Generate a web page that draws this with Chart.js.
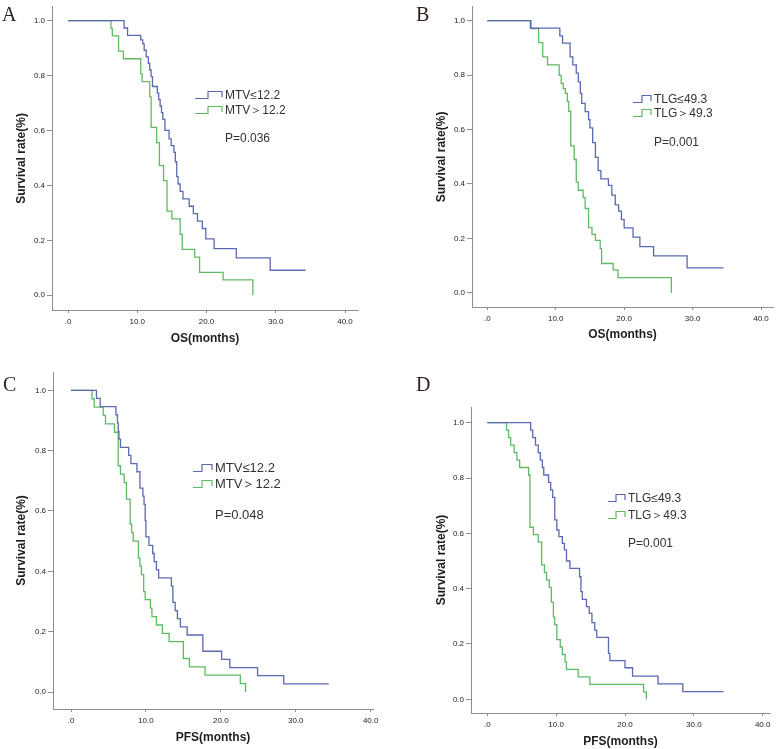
<!DOCTYPE html>
<html>
<head>
<meta charset="utf-8">
<script src="https://cdn.jsdelivr.net/npm/chart.js@4.4.1/dist/chart.umd.min.js"></script>
<style>
  html, body { margin: 0; padding: 0; background: #fff; }
  body { position: relative; width: 778px; height: 749px; overflow: hidden; font-family: "Liberation Sans", Arial, sans-serif; }
  .panel { position: absolute; }
  .letter { position: absolute; font-family: "Liberation Serif", "Times New Roman", serif; font-size: 20px; line-height: 20px; color: #2e1f1f; }
  .legend-row { position: absolute; white-space: nowrap; color: #333; }
  .legend-row svg { position: absolute; }
  .pval { position: absolute; white-space: nowrap; color: #333; }
</style>
</head>
<body>
<script>
// tick values
const monthTicks = [0, 10, 20, 30, 40];
const survTicks = [0, 0.2, 0.4, 0.6, 0.8, 1.0];

// panel text
const panelLetters = ['A', 'B', 'C', 'D'];
const xTitles = ['OS(months)', 'OS(months)', 'PFS(months)', 'PFS(months)'];
const yTitle = 'Survival rate(%)';
const mtvLabels = ['MTV≤12.2', 'MTV＞12.2'];
const tlgLabels = ['TLG≤49.3', 'TLG＞49.3'];
const pValues = ['P=0.036', 'P=0.001', 'P=0.048', 'P=0.001'];

// A: OS by MTV
const osMtvLowTime  = [0, 8.1, 8.6, 10.5, 10.8, 11.0, 11.3, 11.6, 11.8, 12.0, 12.2, 12.9, 13.1, 13.3, 13.5, 13.7, 14.0, 14.6, 14.9, 15.3, 15.5, 15.7, 15.9, 16.2, 16.6, 17.5, 18.1, 18.7, 19.4, 19.9, 21.1, 24.3, 29.2, 34.3];
const osMtvLowSurv  = [1, .973, .946, .930, .915, .892, .868, .844, .820, .796, .760, .736, .712, .689, .665, .640, .600, .569, .545, .520, .486, .432, .405, .378, .351, .324, .297, .270, .243, .205, .170, .136, .091, .091];
const osMtvHighTime = [0, 6.2, 6.4, 7.3, 8.0, 10.5, 10.7, 11.8, 12.0, 12.8, 13.2, 13.8, 14.3, 15.0, 16.2, 16.5, 18.3, 19.0, 22.4, 26.7];
const osMtvHighSurv = [1, .972, .944, .889, .861, .806, .778, .722, .611, .556, .472, .417, .306, .278, .222, .167, .139, .083, .056, 0];

// B: OS by TLG
const osTlgLowTime  = [0, 6.3, 10.6, 11.0, 12.1, 12.5, 13.0, 13.3, 13.6, 13.8, 14.3, 14.8, 15.0, 15.4, 15.8, 16.2, 16.6, 17.7, 18.2, 18.7, 19.2, 19.6, 20.0, 21.3, 22.3, 24.3, 29.2, 34.5];
const osTlgLowSurv  = [1, .972, .944, .917, .867, .837, .807, .775, .733, .696, .666, .636, .606, .552, .498, .449, .419, .395, .359, .323, .300, .269, .239, .205, .170, .136, .092, .092];
const osTlgHighTime = [0, 6.4, 7.5, 8.1, 8.8, 10.5, 10.8, 11.1, 11.4, 11.7, 11.9, 12.2, 12.7, 13.0, 13.3, 14.0, 14.3, 14.8, 15.3, 15.8, 16.5, 16.7, 18.4, 19.1, 26.9];
const osTlgHighSurv = [1, .971, .919, .867, .837, .799, .769, .750, .733, .703, .667, .540, .490, .407, .377, .350, .310, .240, .215, .193, .163, .108, .085, .056, 0];

// C: PFS by MTV
const pfsMtvLowTime  = [0, 3.4, 3.9, 6.0, 6.2, 6.3, 6.4, 6.6, 7.7, 8.0, 8.8, 9.2, 9.6, 9.75, 9.9, 10.0, 10.4, 10.9, 11.1, 11.4, 11.7, 13.4, 13.6, 13.9, 14.2, 14.6, 15.5, 17.6, 20.1, 21.2, 24.9, 28.4, 34.4];
const pfsMtvLowSurv  = [1, .973, .946, .919, .892, .865, .838, .811, .784, .757, .730, .676, .649, .622, .568, .514, .486, .459, .432, .405, .378, .351, .297, .270, .243, .216, .189, .135, .108, .081, .054, .027, .027];
const pfsMtvHighTime = [0, 2.8, 3.1, 4.3, 4.6, 5.8, 6.3, 6.6, 7.1, 7.4, 7.9, 8.1, 8.3, 9.0, 9.2, 9.4, 9.7, 9.9, 10.6, 10.8, 11.4, 12.2, 13.1, 15.0, 15.8, 17.9, 22.6, 23.3];
const pfsMtvHighSurv = [1, .972, .944, .917, .889, .861, .750, .722, .694, .639, .556, .528, .500, .444, .417, .389, .333, .306, .278, .250, .222, .194, .167, .111, .083, .056, .028, 0];

// D: PFS by TLG
const pfsTlgLowTime  = [0, 6.3, 6.6, 7.0, 7.4, 7.7, 8.0, 8.2, 8.9, 9.2, 9.5, 9.8, 10.1, 10.4, 10.9, 11.2, 11.5, 12.0, 13.4, 13.6, 13.8, 14.4, 14.8, 15.2, 15.6, 15.9, 17.6, 17.8, 20.0, 21.1, 24.8, 28.4, 34.3];
const pfsTlgLowSurv  = [1, .973, .946, .919, .892, .865, .838, .811, .784, .757, .730, .649, .612, .588, .564, .540, .500, .473, .443, .389, .361, .335, .311, .277, .250, .224, .166, .140, .114, .084, .056, .028, .028];
const pfsTlgHighTime = [0, 2.8, 3.1, 3.4, 3.9, 4.3, 4.7, 6.0, 6.2, 6.7, 7.4, 7.9, 8.3, 8.6, 9.0, 9.3, 9.6, 9.8, 10.1, 10.6, 10.9, 11.3, 11.5, 13.2, 14.9, 22.7, 23.1];
const pfsTlgHighSurv = [1, .973, .946, .919, .892, .865, .838, .811, .622, .595, .568, .486, .459, .432, .405, .351, .297, .270, .216, .189, .162, .135, .108, .081, .054, .027, 0];

const lineColors = ['#5b69b1', '#5fbb63'];
const axisColor = '#8e8e8e';

const panelSeries = [
  { labels: mtvLabels, times: [osMtvLowTime, osMtvHighTime], surv: [osMtvLowSurv, osMtvHighSurv] },
  { labels: tlgLabels, times: [osTlgLowTime, osTlgHighTime], surv: [osTlgLowSurv, osTlgHighSurv] },
  { labels: mtvLabels, times: [pfsMtvLowTime, pfsMtvHighTime], surv: [pfsMtvLowSurv, pfsMtvHighSurv] },
  { labels: tlgLabels, times: [pfsTlgLowTime, pfsTlgHighTime], surv: [pfsTlgLowSurv, pfsTlgHighSurv] }
];

// page geometry of each panel (pixels)
const layouts = [
  { left: 0,   top: 0,   w: 390, h: 360, axis: [52, 2, 358, 310],    x0: 68,    x40: 345,   y1: 16,    y0: 295,   yTitleX: 22,  xTitleY: 339, letter: [2, 4],     iconX: 195, textX: 225, rowY: [95, 110],  pY: 138, font: 12 },
  { left: 390, top: 0,   w: 388, h: 360, axis: [472, 2, 773, 307],   x0: 487.3, x40: 761,   y1: 16,    y0: 292.7, yTitleX: 442, xTitleY: 335, letter: [416, 4],   iconX: 633, textX: 654, rowY: [99, 113],  pY: 142, font: 12 },
  { left: 0,   top: 365, w: 390, h: 384, axis: [53, 372, 373, 709], x0: 71,    x40: 370.7, y1: 390.3, y0: 692,   yTitleX: 22,  xTitleY: 738, letter: [3, 374],   iconX: 193, textX: 215, rowY: [468, 484], pY: 515, font: 13 },
  { left: 390, top: 365, w: 388, h: 384, axis: [471, 407, 770, 713], x0: 487.3, x40: 762.7, y1: 422.7, y0: 699.3, yTitleX: 442, xTitleY: 742, letter: [416, 374], iconX: 608, textX: 628, rowY: [498, 515], pY: 543, font: 12 }
];

function fmtMonth(v) {
  return v === 0 ? '.0' : v.toFixed(1);
}

function buildPanel(i) {
  const L = layouts[i];
  const S = panelSeries[i];
  const [al, at, ar, ab] = L.axis;

  const pxMonth = (L.x40 - L.x0) / 40;
  const pxUnit = L.y0 - L.y1;
  const xMin = (al - L.x0) / pxMonth;
  const xMax = (ar - L.x0) / pxMonth;
  const yMax = 1 + (L.y1 - at) / pxUnit;
  const yMin = -(ab - L.y0) / pxUnit;

  const box = document.createElement('div');
  box.className = 'panel';
  box.style.left = L.left + 'px';
  box.style.top = L.top + 'px';
  box.style.width = L.w + 'px';
  box.style.height = L.h + 'px';
  const canvas = document.createElement('canvas');
  canvas.width = L.w;
  canvas.height = L.h;
  box.appendChild(canvas);
  document.body.appendChild(box);

  const titleFont = { family: '"Liberation Sans", Arial, sans-serif', size: 12, weight: 'bold' };
  const tickFont = { family: '"Liberation Sans", Arial, sans-serif', size: 8 };

  const chart = new Chart(canvas, {
    type: 'line',
    data: {
      datasets: S.labels.map((lab, k) => ({
        label: lab,
        data: S.times[k].map((t, j) => ({ x: t, y: S.surv[k][j] })),
        borderColor: lineColors[k],
        borderWidth: 1.3,
        stepped: true,
        pointRadius: 0,
        fill: false
      }))
    },
    options: {
      responsive: false,
      animation: false,
      layout: { padding: { left: 0, top: at - L.top, right: L.left + L.w - ar, bottom: 0 } },
      plugins: { legend: { display: false }, tooltip: { enabled: false } },
      scales: {
        x: {
          type: 'linear',
          min: xMin,
          max: xMax,
          afterBuildTicks: sc => { sc.ticks = monthTicks.map(v => ({ value: v })); },
          afterFit: sc => { sc.height = L.top + L.h - ab; },
          grid: { display: true, drawOnChartArea: false, drawTicks: true, tickLength: 3, color: axisColor },
          border: { display: true, color: axisColor, width: 1 },
          ticks: { font: tickFont, color: '#222', padding: 4, maxRotation: 0, autoSkip: false, callback: v => fmtMonth(v) },
          title: { display: true, text: xTitles[i], font: titleFont, color: '#1e1e1e', padding: { top: 0, bottom: L.top + L.h - L.xTitleY - 7.2 } }
        },
        y: {
          type: 'linear',
          min: yMin,
          max: yMax,
          afterBuildTicks: sc => { sc.ticks = survTicks.map(v => ({ value: v })); },
          afterFit: sc => { sc.width = al - L.left; },
          grid: { display: true, drawOnChartArea: false, drawTicks: true, tickLength: 5, color: axisColor },
          border: { display: true, color: axisColor, width: 1 },
          ticks: { font: tickFont, color: '#222', padding: 2, autoSkip: false, callback: v => v.toFixed(1) },
          title: { display: true, text: yTitle, font: titleFont, color: '#1e1e1e', padding: { top: L.yTitleX - L.left - 7.2, bottom: 0 } }
        }
      }
    }
  });

  // panel letter
  const letter = document.createElement('div');
  letter.className = 'letter';
  letter.textContent = panelLetters[i];
  letter.style.left = L.letter[0] + 'px';
  letter.style.top = L.letter[1] + 'px';
  document.body.appendChild(letter);

  // legend built from the chart's datasets
  const iconW = L.textX - L.iconX - 2;
  chart.data.datasets.forEach((ds, k) => {
    const row = document.createElement('div');
    row.className = 'legend-row';
    row.style.left = L.iconX + 'px';
    row.style.top = (L.rowY[k] - L.font / 2 - 0.5) + 'px';
    row.style.fontSize = L.font + 'px';
    row.style.lineHeight = L.font + 'px';
    row.style.paddingLeft = (L.textX - L.iconX) + 'px';
    const mid = Math.round(iconW * 0.45);
    row.innerHTML =
      '<svg width="' + iconW + '" height="10" style="left:0;top:' + (L.font / 2 - 4.5) + 'px">' +
      '<path d="M0 8.5 H' + mid + ' V1.5 H' + (iconW - 1) + ' V7" fill="none" stroke="' + ds.borderColor + '" stroke-width="1.2"/></svg>';
    row.appendChild(document.createTextNode(ds.label));
    document.body.appendChild(row);
  });

  const p = document.createElement('div');
  p.className = 'pval';
  p.textContent = pValues[i];
  p.style.left = L.textX + 'px';
  p.style.top = (L.pY - L.font / 2 - 0.5) + 'px';
  p.style.fontSize = L.font + 'px';
  p.style.lineHeight = L.font + 'px';
  document.body.appendChild(p);
}

layouts.forEach((_, i) => buildPanel(i));
</script>
</body>
</html>
